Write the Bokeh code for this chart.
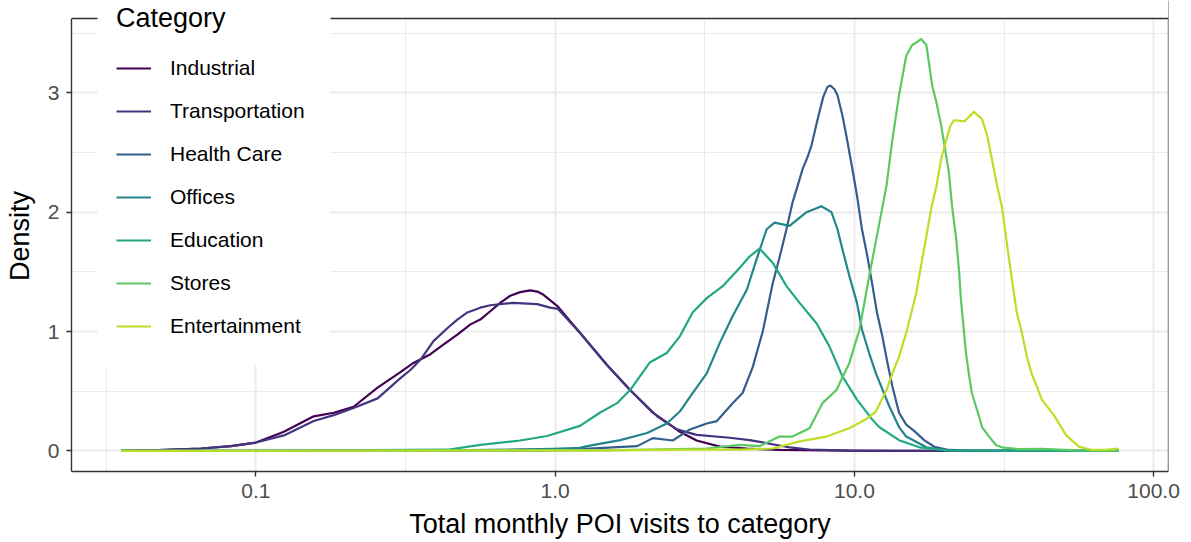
import numpy as np
from bokeh.plotting import figure
from bokeh.models import (FixedTicker, Range1d, Legend, LegendItem, PrintfTickFormatter,
                          BoxAnnotation, Span)
from bokeh.palettes import Viridis256
from bokeh.embed import file_html
from bokeh.resources import INLINE

# Density estimates of total monthly POI visits, one curve per category
categories = ["Industrial", "Transportation", "Health Care", "Offices",
              "Education", "Stores", "Entertainment"]

industrial_x = [0.0355, 0.0447, 0.0656, 0.0825, 0.1, 0.124, 0.156, 0.182, 0.212, 0.255,
                0.304, 0.336, 0.383, 0.423, 0.471, 0.521, 0.562, 0.607, 0.655, 0.708,
                0.764, 0.825, 0.871, 0.912, 1.02, 1.21, 1.49, 1.78, 2.12, 2.42,
                2.61, 2.97, 3.55, 4.37, 5.62, 9.62, 14.1, 76.4]
industrial_y = [0.0, 0.005, 0.02, 0.04, 0.07, 0.16, 0.29, 0.32, 0.37, 0.53,
                0.66, 0.737, 0.81, 0.89, 0.975, 1.06, 1.10, 1.17, 1.24, 1.30,
                1.33, 1.345, 1.335, 1.31, 1.21, 0.99, 0.72, 0.51, 0.32, 0.22,
                0.16, 0.087, 0.036, 0.02, 0.008, 0.002, 0.0, 0.0]

transport_x = [0.0355, 0.0447, 0.0656, 0.0825, 0.1, 0.124, 0.156, 0.182, 0.212, 0.255,
               0.304, 0.329, 0.355, 0.392, 0.437, 0.471, 0.509, 0.562, 0.607, 0.724,
               0.871, 0.962, 1.02, 1.21, 1.49, 1.78, 2.19, 2.55, 2.97, 3.83,
               4.47, 5.21, 6.07, 7.08, 9.62, 76.4]
transport_y = [0.0, 0.005, 0.02, 0.04, 0.07, 0.13, 0.25, 0.30, 0.36, 0.44,
               0.61, 0.68, 0.765, 0.92, 1.03, 1.10, 1.16, 1.20, 1.22, 1.24,
               1.23, 1.20, 1.19, 0.99, 0.72, 0.51, 0.29, 0.18, 0.134, 0.11,
               0.09, 0.06, 0.03, 0.012, 0.003, 0.0]

health_x = [0.0355, 0.304, 0.655, 0.985, 1.21, 1.56, 1.88, 2.12, 2.47, 2.82,
            3.21, 3.47, 3.92, 4.23, 4.57, 4.94, 5.33, 5.62, 5.93, 6.21,
            6.46, 6.71, 6.97, 7.19, 7.41, 7.64, 7.88, 8.13, 8.32, 8.58,
            8.78, 9.12, 9.40, 9.85, 10.2, 10.6, 11.05, 11.5, 11.9, 12.4,
            12.9, 13.4, 14.1, 14.9, 15.8, 17.1, 18.5, 20.7, 24.2, 76.4]
health_y = [0.0, 0.0, 0.005, 0.01, 0.015, 0.03, 0.04, 0.107, 0.087, 0.18,
            0.23, 0.25, 0.40, 0.485, 0.70, 1.0, 1.40, 1.62, 1.857, 2.08,
            2.22, 2.36, 2.46, 2.56, 2.70, 2.84, 2.97, 3.05, 3.06, 3.03,
            2.98, 2.81, 2.64, 2.36, 2.14, 1.857, 1.63, 1.38, 1.157, 0.96,
            0.737, 0.54, 0.32, 0.22, 0.17, 0.09, 0.035, 0.008, 0.002, 0.0]

offices_x = [0.0355, 0.207, 0.447, 0.985, 1.21, 1.28, 1.65, 2.03, 2.36, 2.61,
             2.88, 3.21, 3.55, 3.92, 4.37, 4.71, 5.09, 5.41, 6.07, 6.92,
             7.76, 8.38, 8.78, 9.12, 9.62, 10.2, 10.6, 11.2, 11.8, 13.1,
             14.1, 14.9, 17.4, 20.3, 76.4]
offices_y = [0.0, 0.0, 0.005, 0.017, 0.025, 0.04, 0.09, 0.15, 0.23, 0.33,
             0.485, 0.65, 0.905, 1.13, 1.35, 1.605, 1.857, 1.913, 1.885, 2.0,
             2.05, 2.0, 1.857, 1.69, 1.465, 1.24, 1.017, 0.82, 0.65, 0.37,
             0.2, 0.12, 0.03, 0.005, 0.0]

education_x = [0.0355, 0.141, 0.437, 0.562, 0.764, 0.940, 1.21, 1.41, 1.61, 1.78,
               2.07, 2.36, 2.61, 2.88, 3.21, 3.63, 4.14, 4.47, 4.82, 5.33,
               5.93, 6.56, 7.47, 8.25, 9.12, 10.2, 11.5, 12.1, 14.1, 16.5, 20.3, 76.4]
education_y = [0.0, 0.002, 0.01, 0.05, 0.087, 0.125, 0.21, 0.32, 0.40, 0.51,
               0.74, 0.82, 0.96, 1.16, 1.28, 1.38, 1.535, 1.63, 1.695, 1.577,
               1.38, 1.24, 1.07, 0.876, 0.624, 0.43, 0.26, 0.2, 0.09, 0.03, 0.005, 0.0]

stores_x = [0.0355, 0.655, 1.41, 2.07, 3.21, 4.14, 4.82, 5.62, 6.21, 7.08,
            7.82, 8.71, 9.62, 10.4, 11.2, 12.1, 12.8, 13.4, 14.1, 14.9,
            15.6, 16.1, 16.7, 17.4, 17.8, 18.2, 18.8, 19.5, 20.0, 20.7,
            21.2, 21.9, 22.4, 22.7, 23.6, 24.2, 24.7, 25.5, 26.1, 26.7,
            28.2, 29.7, 31.1, 35.5, 42.3, 48.2, 56.2, 76.4]
stores_y = [0.0, 0.0, 0.005, 0.01, 0.02, 0.05, 0.04, 0.12, 0.12, 0.19,
            0.40, 0.51, 0.737, 1.017, 1.46, 1.9, 2.22, 2.61, 2.98, 3.31,
            3.40, 3.42, 3.45, 3.40, 3.23, 3.06, 2.92, 2.725, 2.56, 2.33,
            2.05, 1.77, 1.49, 1.27, 0.82, 0.624, 0.485, 0.37, 0.29, 0.20,
            0.12, 0.05, 0.03, 0.015, 0.017, 0.01, 0.005, 0.0]

entertain_x = [0.0355, 1.41, 3.04, 4.14, 5.33, 6.56, 8.07, 9.62, 11.0, 11.8,
               12.8, 13.4, 14.1, 14.9, 15.5, 16.1, 16.7, 17.4, 18.06, 18.8,
               19.5, 20.3, 20.9, 21.5, 23.3, 25.1, 26.7, 27.8, 28.8, 30.0,
               31.1, 32.4, 33.6, 34.9, 36.3, 37.7, 39.2, 40.7, 42.3, 46.4,
               50.9, 56.2, 62.1, 69.2, 76.4]
entertain_y = [0.0, 0.005, 0.01, 0.01, 0.02, 0.08, 0.12, 0.19, 0.27, 0.33,
               0.51, 0.65, 0.79, 0.99, 1.157, 1.325, 1.55, 1.80, 2.03, 2.22,
               2.445, 2.61, 2.72, 2.77, 2.76, 2.84, 2.78, 2.64, 2.445, 2.22,
               2.05, 1.72, 1.44, 1.157, 0.99, 0.79, 0.64, 0.54, 0.43, 0.30,
               0.134, 0.036, 0.008, 0.008, 0.02]

x_ticks = [0.1, 1.0, 10.0, 100.0]
y_ticks = [0, 1, 2, 3]

series = [(industrial_x, industrial_y), (transport_x, transport_y),
          (health_x, health_y), (offices_x, offices_y),
          (education_x, education_y), (stores_x, stores_y),
          (entertain_x, entertain_y)]

# viridis, stopping short of the bright yellow end
n = len(categories)
colors = [Viridis256[int(round(i * 0.9 / (n - 1) * 255))] for i in range(n)]

# panel limits padded by 5% on each side (log scale for x)
all_x = np.concatenate([np.array(sx) for sx, _ in series])
all_y = np.concatenate([np.array(sy) for _, sy in series])
lx0, lx1 = np.log10(all_x.min()), np.log10(all_x.max())
padx = 0.05 * (lx1 - lx0)
ymax = all_y.max()
x0, x1 = 10 ** (lx0 - padx), 10 ** (lx1 + padx)
y0, y1 = -0.05 * ymax, 1.05 * ymax

# canvas geometry: the panel spans 453 px in height and sits 18 px below the top;
# the frame reaches the top edge so the legend can overlap the panel border
W, H = 1191, 542
LEFT, RIGHT, TOP, BOTTOM = 71, 23, 18, 71
panel_h = H - TOP - BOTTOM
y_frame_top = y1 + (y1 - y0) * TOP / panel_h

FONT = "Liberation Sans"
BORDER = "#333333"

p = figure(width=W, height=H, x_axis_type="log",
           x_range=Range1d(x0, x1), y_range=Range1d(y0, y_frame_top),
           output_backend="svg", toolbar_location=None,
           min_border_left=LEFT, min_border_right=RIGHT,
           min_border_top=0, min_border_bottom=BOTTOM)
p.background_fill_color = "white"
p.border_fill_color = "white"
p.outline_line_color = None

p.xaxis.ticker = FixedTicker(ticks=x_ticks,
                             minor_ticks=[10 ** (np.log10(t) - 0.5) for t in x_ticks] + [10 ** 2.5])
p.xaxis.formatter = PrintfTickFormatter(format="%.1f")
p.yaxis.ticker = FixedTicker(ticks=y_ticks, minor_ticks=[t + 0.5 for t in y_ticks])
p.yaxis.bounds = (y0, y1)

for grid in (p.xgrid, p.ygrid):
    grid.grid_line_color = "#EBEBEB"
    grid.grid_line_width = 2
    grid.minor_grid_line_color = "#EBEBEB"
    grid.minor_grid_line_width = 1

for ax in (p.xaxis, p.yaxis):
    ax.axis_line_color = BORDER
    ax.axis_line_width = 1.4
    ax.major_tick_line_color = BORDER
    ax.major_tick_line_width = 1.4
    ax.major_tick_in = 0
    ax.major_tick_out = 5
    ax.minor_tick_line_color = None
    ax.major_label_text_font = FONT
    ax.major_label_text_font_size = "21px"
    ax.major_label_text_color = "#4D4D4D"
    ax.major_label_standoff = 7
    ax.axis_label_text_font = FONT
    ax.axis_label_text_font_size = "27px"
    ax.axis_label_text_font_style = "normal"
    ax.axis_label_text_color = "black"

p.xaxis.axis_label = "Total monthly POI visits to category"
p.yaxis.axis_label = "Density"
p.xaxis.axis_label_standoff = 8
p.yaxis.axis_label_standoff = 10

items = []
for name, (sx, sy), col in zip(categories, series, colors):
    r = p.line(sx, sy, line_color=col, line_width=2.2, line_join="round")
    items.append(LegendItem(label=name, renderers=[r]))

# right border, blank strip above the panel, then the top border
p.add_layout(Span(location=x1, dimension="height", line_color=BORDER, line_width=1.4))
p.add_layout(BoxAnnotation(bottom=y1, fill_color="white", fill_alpha=1.0, line_color=None))
p.add_layout(Span(location=y1, dimension="width", line_color=BORDER, line_width=1.4))

# white backing for the legend, which sits over the top border
p.add_layout(BoxAnnotation(left=97, right=330, top=0, bottom=365,
                           left_units="canvas", right_units="canvas",
                           top_units="canvas", bottom_units="canvas",
                           fill_color="white", fill_alpha=1.0, line_color=None))

legend = Legend(items=items, location=(45, 130), title="Category",
                title_text_font=FONT, title_text_font_size="27px",
                title_text_font_style="normal", title_text_color="black",
                title_standoff=19,
                label_text_font=FONT, label_text_font_size="21px",
                label_text_color="black",
                glyph_width=35, glyph_height=30, label_height=30,
                label_standoff=19, spacing=13, padding=0, margin=0,
                background_fill_color="white", background_fill_alpha=1.0,
                border_line_color=None)
p.add_layout(legend)

open("out.html", "w").write(file_html(p, INLINE))
